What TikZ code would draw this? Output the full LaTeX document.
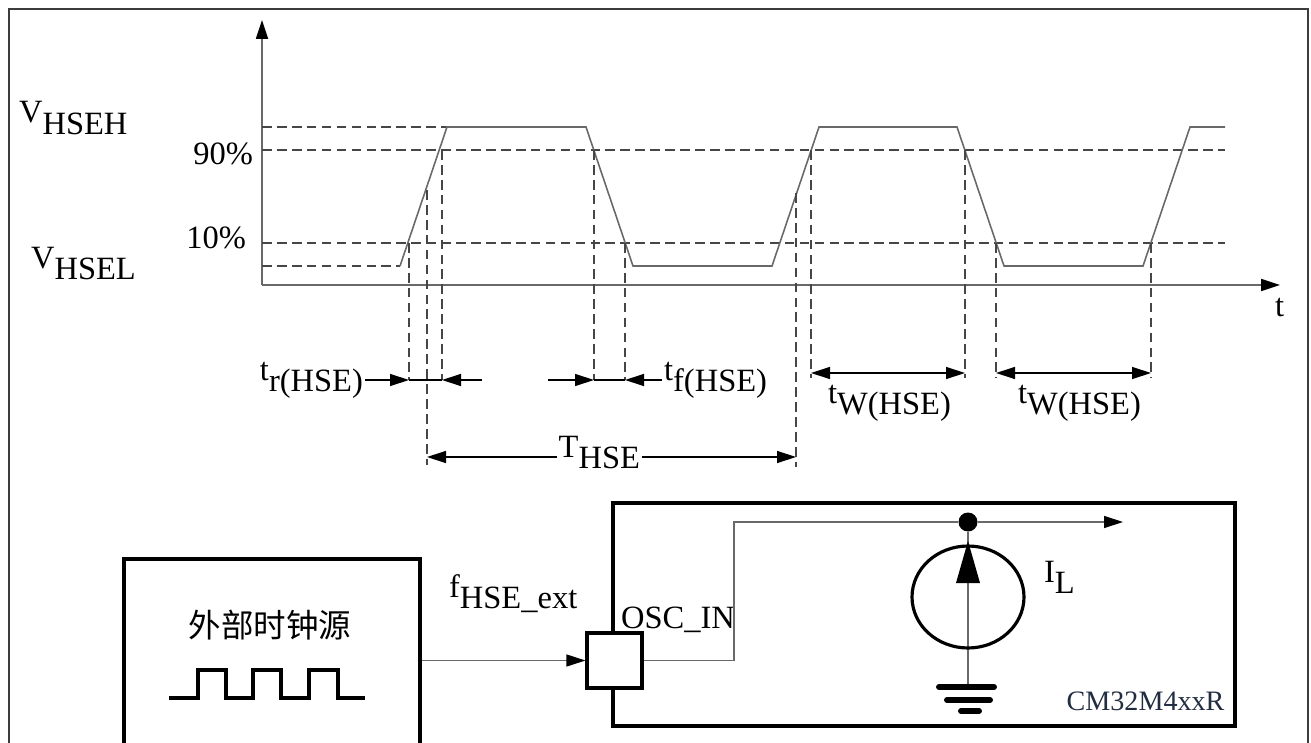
\documentclass[tikz,border=0pt]{standalone}
\usepackage{fontspec}
\setmainfont{Liberation Serif}
\newfontfamily\cjk{Noto Sans CJK SC}
\usetikzlibrary{arrows.meta, positioning, shapes.geometric}
\definecolor{framegray}{RGB}{60,60,60}
\definecolor{wavegray}{RGB}{105,105,105}
\definecolor{dashgray}{RGB}{70,70,70}
\definecolor{chipnavy}{RGB}{35,45,65}
\newcommand{\lowtxt}[1]{\raisebox{-0.34em}{#1}}

\begin{document}
\begin{tikzpicture}[
    x=0.02cm, y=-0.02cm,
    >={Triangle[length=0.38cm, width=0.24cm, color=black]},
    lbl/.style={font=\fontsize{18.5}{22}\selectfont, inner sep=1pt},
    axis/.style={->, line width=1pt, draw=wavegray},
    wave/.style={line width=0.9pt, draw=wavegray},
    guide/.style={dashed, dash pattern=on 5.5pt off 3pt, line width=0.6pt, draw=dashgray},
    dim/.style={->, line width=0.7pt},
    dbl/.style={<->, line width=0.7pt},
    box/.style={rectangle, draw, line width=1.8pt, inner sep=0pt},
    wire/.style={line width=0.7pt, draw=wavegray}
]
    \useasboundingbox (0,0) rectangle (1311,743);

    % Frame
    \draw[line width=1.1pt, framegray] (9,760) -- (9,9) -- (1308,9) -- (1308,760);

    % Axes
    \coordinate (origin) at (262,285);
    \draw[axis] (origin) -- (262,20);
    \draw[axis] (origin) -- (1280,285);
    \node[lbl, anchor=base west] (tlbl) at (1273,316) {t};

    % Levels
    \node[lbl, anchor=base west] (vh) at (17,123) {V\lowtxt{HSEH}};
    \node[lbl, anchor=base east] (p90) at (255,165) {90\%};
    \node[lbl, anchor=base east] (p10) at (248,249) {10\%};
    \node[lbl, anchor=base west] (vl) at (29,268) {V\lowtxt{HSEL}};
    \draw[guide] (262,127) -- (447,127);
    \draw[guide] (262,150) -- (1225,150);
    \draw[guide] (262,243) -- (1225,243);
    \draw[guide] (262,266) -- (400,266);

    % Waveform
    \draw[wave] (400,266) -- (447,127) -- (586,127) -- (633,266) -- (772,266) -- (819,127)
        -- (957,127) -- (1004,266) -- (1143,266) -- (1190,127) -- (1225,127);

    % Guides down
    \draw[guide] (409,243) -- (409,380);
    \draw[guide] (427,190) -- (427,465);
    \draw[guide] (442,150) -- (442,380);
    \draw[guide] (594,150) -- (594,380);
    \draw[guide] (625,243) -- (625,380);
    \draw[guide] (796,193) -- (796,467);
    \draw[guide] (811,150) -- (811,378);
    \draw[guide] (965,150) -- (965,378);
    \draw[guide] (996,243) -- (996,378);
    \draw[guide] (1151,243) -- (1151,378);

    % Rise time
    \coordinate (r10) at (409,380);
    \coordinate (r90) at (442,380);
    \coordinate (rtail) at (482,380);
    \node[lbl, anchor=base east] (trlbl) at (365,380) {t\lowtxt{r(HSE)}};
    \draw[dim] (trlbl.base east) -- (r10);
    \draw[line width=0.7pt] (r10) -- (r90);
    \draw[dim] (rtail) -- (r90);

    % Fall time
    \coordinate (f90) at (594,380);
    \coordinate (f10) at (625,380);
    \coordinate (ftail) at (548,380);
    \node[lbl, anchor=base west] (tflbl) at (662,380) {t\lowtxt{f(HSE)}};
    \draw[dim] (ftail) -- (f90);
    \draw[line width=0.7pt] (f90) -- (f10);
    \draw[dim] (tflbl.base west) -- (f10);

    % Period
    \coordinate (per1) at (427,457);
    \coordinate (per2) at (796,457);
    \draw[dbl] (per1) -- node[lbl, fill=white, anchor=base, pos=0.467] (thse) {T\lowtxt{HSE}} (per2);

    % Pulse widths
    \coordinate (wa1) at (811,373);
    \coordinate (wa2) at (965,373);
    \coordinate (wb1) at (996,373);
    \coordinate (wb2) at (1151,373);
    \draw[dbl] (wa1) -- (wa2);
    \draw[dbl] (wb1) -- (wb2);
    \node[lbl, anchor=base west] (twa) at (826,403) {t\lowtxt{W(HSE)}};
    \node[lbl, anchor=base west] (twb) at (1016,403) {t\lowtxt{W(HSE)}};

    % External source
    \node[box, minimum width=5.92cm, minimum height=3.82cm] (src) at (272,654.5) {};
    \node[lbl, font=\fontsize{18.5}{22}\selectfont\cjk] (srclbl) at (270,625) {外部时钟源};
    \draw[line width=1.8pt] (169,698) -- (198,698) -- (198,670) -- (226,670) -- (226,698)
        -- (253,698) -- (253,670) -- (281,670) -- (281,698) -- (309,698) -- (309,670)
        -- (338,670) -- (338,698) -- (365,698);

    % Chip
    \node[box, minimum width=12.44cm, minimum height=4.46cm] (chip) at (924,614.5) {};
    \node[box, fill=white, minimum size=1.1cm] (pin) at (614.5,660.5) {};
    \draw[wire, ->] (src.east |- pin) -- (pin.west);
    \node[lbl, anchor=base west] (fext) at (447,597) {f\lowtxt{HSE\_ext}};
    \node[lbl, anchor=base west] (osc) at (619,628) {OSC\_IN};
    \node[font=\fontsize{16}{19}\selectfont, text=chipnavy, inner sep=1pt,
          above left=0.29cm and 0.2cm of chip.south east] (chipname) {CM32M4xxR};

    % Current source
    \node[circle, fill=black, minimum size=0.38cm, inner sep=0pt] (dot) at (968,522) {};
    \coordinate (bend) at (734,522);
    \coordinate (out) at (1123,522);
    \coordinate (gnd) at (968,687);
    \draw[wire] (pin.east) -| (bend) -- (dot);
    \draw[wire, ->] (dot) -- (out);
    \draw[wire] (dot) -- (gnd);
    \node[ellipse, draw, line width=1.8pt, minimum width=2.24cm, minimum height=2.04cm, inner sep=0pt] (isrc) at (968,597) {};
    \fill (968,541) -- (956,583) -- (980,583) -- cycle;
    \node[lbl, anchor=base west] (il) at (1042,582) {I\lowtxt{L}};
    \draw[line width=3.4pt, line cap=round] (939,687) -- (994,687);
    \draw[line width=3.4pt, line cap=round] (947,700) -- (990,700);
    \draw[line width=3.4pt, line cap=round] (961,711) -- (979,711);
\end{tikzpicture}
\end{document}
